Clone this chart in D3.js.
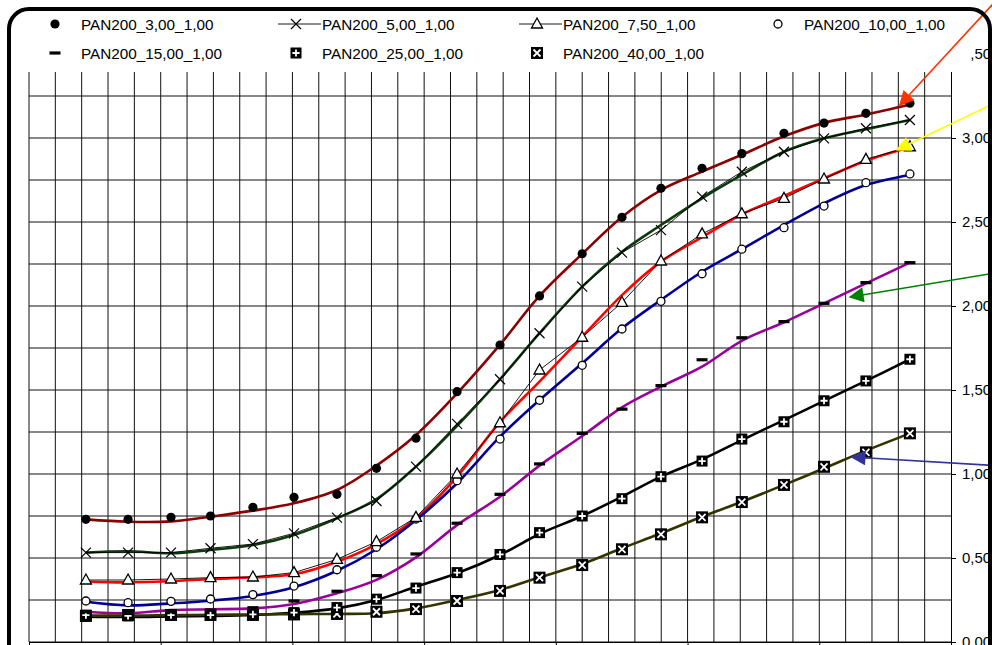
<!DOCTYPE html>
<html lang="de">
  <head>
    <meta charset="UTF-8" />
    <title>PAN200</title>
    <script src="https://d3js.org/d3.v7.min.js"></script>
    <style>
      body {
        margin: 0;
        background: #fff;
      }
      text {
        font-family: "Liberation Sans", Arial, sans-serif;
        fill: #000;
      }
    </style>
  </head>
  <body>
    <div id="chart"></div>
    <script>
      const width = 992,
        height = 645;

      // x positions of the measurements (grid units)
      const xPos = [2.16, 3.76, 5.39, 6.89, 8.5, 10.06, 11.69, 13.19, 14.69, 16.25, 17.88,
        19.38, 21.0, 22.51, 23.99, 25.55, 27.06, 28.66, 30.18, 31.77, 33.44];

      // measured points (markers)
      const pan3 = [0.73, 0.73, 0.742, 0.75, 0.802, 0.861, 0.879, 1.034, 1.213, 1.49, 1.768,
        2.06, 2.311, 2.528, 2.701, 2.82, 2.907, 3.028, 3.089, 3.147, 3.207];
      const pan5 = [0.532, 0.532, 0.532, 0.558, 0.583, 0.647, 0.74, 0.839, 1.044, 1.298, 1.564,
        1.838, 2.115, 2.318, 2.452, 2.651, 2.799, 2.918, 2.998, 3.058, 3.107];
      const pan75 = [0.369, 0.369, 0.375, 0.383, 0.387, 0.413, 0.492, 0.597, 0.742, 1.0, 1.305,
        1.619, 1.814, 2.021, 2.268, 2.429, 2.549, 2.641, 2.756, 2.873, 2.948];
      const pan10 = [0.244, 0.234, 0.242, 0.256, 0.282, 0.333, 0.43, 0.564, 0.732, 0.96, 1.208,
        1.439, 1.647, 1.863, 2.028, 2.192, 2.338, 2.466, 2.595, 2.734, 2.786];
      const pan15 = [0.18, 0.17, 0.18, 0.19, 0.204, 0.244, 0.302, 0.395, 0.524, 0.707, 0.879,
        1.06, 1.242, 1.386, 1.526, 1.68, 1.811, 1.907, 2.016, 2.139, 2.258];
      const pan25 = [0.16, 0.155, 0.16, 0.16, 0.165, 0.175, 0.205, 0.255, 0.321, 0.413, 0.521,
        0.651, 0.75, 0.853, 0.984, 1.077, 1.208, 1.311, 1.436, 1.554, 1.683];
      const pan40 = [0.155, 0.161, 0.161, 0.161, 0.161, 0.164, 0.167, 0.18, 0.196, 0.244, 0.304,
        0.383, 0.458, 0.552, 0.641, 0.742, 0.833, 0.935, 1.043, 1.129, 1.242];

      // smoothed curves (coloured lines)
      const fit3 = [0.73, 0.716, 0.718, 0.746, 0.782, 0.826, 0.905, 1.05, 1.232, 1.48, 1.77,
        2.06, 2.31, 2.53, 2.69, 2.8, 2.9, 3.01, 3.09, 3.14, 3.2];
      const fit5 = [0.532, 0.54, 0.528, 0.548, 0.577, 0.637, 0.736, 0.85, 1.044, 1.286, 1.564,
        1.838, 2.115, 2.323, 2.482, 2.641, 2.78, 2.918, 2.998, 3.052, 3.107];
      const fit75 = [0.359, 0.355, 0.363, 0.375, 0.385, 0.403, 0.478, 0.583, 0.736, 0.984, 1.31,
        1.55, 1.817, 2.065, 2.264, 2.41, 2.546, 2.655, 2.76, 2.865, 2.945];
      const fit10 = [0.24, 0.218, 0.23, 0.246, 0.274, 0.326, 0.424, 0.552, 0.726, 0.945, 1.222,
        1.44, 1.659, 1.867, 2.036, 2.204, 2.338, 2.482, 2.611, 2.72, 2.78];
      const fit15 = [0.18, 0.171, 0.19, 0.195, 0.2, 0.226, 0.29, 0.37, 0.504, 0.696, 0.865,
        1.05, 1.226, 1.397, 1.52, 1.639, 1.793, 1.903, 2.016, 2.135, 2.258];
      const fit25 = [0.151, 0.149, 0.152, 0.155, 0.161, 0.174, 0.2, 0.25, 0.329, 0.409, 0.518,
        0.643, 0.75, 0.865, 0.984, 1.087, 1.202, 1.321, 1.435, 1.554, 1.683];
      const fit40 = [0.157, 0.157, 0.16, 0.162, 0.164, 0.166, 0.167, 0.171, 0.2, 0.25, 0.31,
        0.385, 0.464, 0.558, 0.647, 0.746, 0.835, 0.935, 1.034, 1.139, 1.242];

      const seriesNames = ["PAN200_3,00_1,00", "PAN200_5,00_1,00", "PAN200_7,50_1,00",
        "PAN200_10,00_1,00", "PAN200_15,00_1,00", "PAN200_25,00_1,00", "PAN200_40,00_1,00"];
      const markerTypes = ["dot", "cross", "tri", "ring", "dash", "plus", "xbox"];
      const curveColors = ["#8b0000", "#0d3a0d", "#ff0000", "#000099", "#990099", "#000000", "#333300"];
      const withLine = [false, true, true, false, false, false, false];
      const points = [pan3, pan5, pan75, pan10, pan15, pan25, pan40];
      const fits = [fit3, fit5, fit75, fit10, fit15, fit25, fit40];

      const yTicks = [0, 0.5, 1, 1.5, 2, 2.5, 3, 3.5];
      const yTickLabels = ["0,00", "0,50", "1,00", "1,50", "2,00", "2,50", "3,00", "3,50"];

      // annotation arrows: [x0, y0, x1 (tip), y1 (tip)] in data units
      const arrowColors = ["#ff3300", "#ffff00", "#008000", "#333399"];
      const arrowLines = [
        [36.9, 3.85, 33.06, 3.196],
        [36.9, 3.226, 32.95, 2.93],
        [36.9, 2.202, 31.17, 2.054],
        [36.9, 1.048, 31.24, 1.101],
      ];

      const svg = d3
        .select("#chart")
        .append("svg")
        .attr("width", width)
        .attr("height", height);

      const x = d3.scaleLinear().domain([0, 35]).range([29, 951]);
      const y = d3.scaleLinear().domain([0, 3.5]).range([642, 54]);

      // grid
      const grid = svg.append("g");
      grid
        .selectAll("line.v")
        .data(d3.range(0, 35))
        .enter()
        .append("line")
        .attr("x1", (d) => x(d))
        .attr("x2", (d) => x(d))
        .attr("y1", y(3.5))
        .attr("y2", y(0))
        .attr("stroke", "#111")
        .attr("stroke-width", 1);
      grid
        .selectAll("line.h")
        .data(d3.range(0, 15).map((i) => i * 0.25))
        .enter()
        .append("line")
        .attr("x1", x(0))
        .attr("x2", x(35))
        .attr("y1", (d) => y(d))
        .attr("y2", (d) => y(d))
        .attr("stroke", "#111")
        .attr("stroke-width", 1);

      // right axis
      const yAxis = d3
        .axisRight(y)
        .tickValues(yTicks)
        .tickSize(5)
        .tickPadding(6)
        .tickFormat((d, i) => yTickLabels[i]);
      const ya = svg
        .append("g")
        .attr("transform", `translate(${x(35)},0)`)
        .call(yAxis);
      ya.select(".domain").attr("stroke", "#000");
      ya.selectAll("text")
        .style("font-size", "15px")
        .style("font-family", "'Liberation Sans', Arial, sans-serif");

      // bottom axis
      const xAxis = d3
        .axisBottom(x)
        .tickValues([0, 5, 10, 15, 20, 25, 30, 35])
        .tickSize(6)
        .tickFormat("");
      svg
        .append("g")
        .attr("transform", `translate(0,${y(0)})`)
        .call(xAxis)
        .select(".domain")
        .attr("stroke", "#000");

      // smoothed coloured curves
      const curve = d3
        .line()
        .x((d, i) => x(xPos[i]))
        .y((d) => y(d))
        .curve(d3.curveCatmullRom.alpha(0.5));
      svg
        .append("g")
        .selectAll("path")
        .data(fits)
        .enter()
        .append("path")
        .attr("d", curve)
        .attr("fill", "none")
        .attr("stroke", (d, i) => curveColors[i])
        .attr("stroke-width", 2.6);

      // thin black connecting lines (5,00 and 7,50)
      const straight = d3
        .line()
        .x((d, i) => x(xPos[i]))
        .y((d) => y(d));
      svg
        .append("g")
        .selectAll("path")
        .data(points.filter((d, i) => withLine[i]))
        .enter()
        .append("path")
        .attr("d", straight)
        .attr("fill", "none")
        .attr("stroke", "#000")
        .attr("stroke-width", 0.9);

      function drawMarker(g, type) {
        if (type === "dot") {
          g.append("circle").attr("r", 4.6).attr("fill", "#000");
        } else if (type === "cross") {
          g.append("path")
            .attr("d", "M-5,-5L5,5M-5,5L5,-5")
            .attr("stroke", "#000")
            .attr("stroke-width", 1.2);
        } else if (type === "tri") {
          g.append("path")
            .attr("d", "M0,-6L5.5,4L-5.5,4Z")
            .attr("fill", "#fff")
            .attr("stroke", "#000")
            .attr("stroke-width", 1.3);
        } else if (type === "ring") {
          g.append("circle")
            .attr("r", 4)
            .attr("fill", "#fff")
            .attr("stroke", "#000")
            .attr("stroke-width", 1.3);
        } else if (type === "dash") {
          g.append("rect")
            .attr("x", -5.5)
            .attr("y", -1.6)
            .attr("width", 11)
            .attr("height", 3.2)
            .attr("fill", "#000");
        } else if (type === "plus") {
          g.append("rect")
            .attr("x", -5.5)
            .attr("y", -5.5)
            .attr("width", 11)
            .attr("height", 11)
            .attr("fill", "#000");
          g.append("path")
            .attr("d", "M-3.6,0H3.6M0,-3.6V3.6")
            .attr("stroke", "#fff")
            .attr("stroke-width", 1.8);
        } else if (type === "xbox") {
          g.append("rect")
            .attr("x", -6)
            .attr("y", -6)
            .attr("width", 12)
            .attr("height", 12)
            .attr("fill", "#000");
          g.append("path")
            .attr("d", "M-3.5,-3.5L3.5,3.5M-3.5,3.5L3.5,-3.5")
            .attr("stroke", "#fff")
            .attr("stroke-width", 1.8);
        }
      }

      // markers, drawn from the last series to the first
      for (let s = points.length - 1; s >= 0; s--) {
        const gs = svg.append("g");
        points[s].forEach((v, i) => {
          const m = gs
            .append("g")
            .attr("transform", `translate(${x(xPos[i])},${y(v)})`);
          drawMarker(m, markerTypes[s]);
        });
      }

      // legend (white box hides the top strip of the plot)
      svg
        .append("rect")
        .attr("x", 12)
        .attr("y", 12)
        .attr("width", 958)
        .attr("height", 60)
        .attr("fill", "#fff");

      const legend = svg.append("g");
      seriesNames.forEach((name, i) => {
        const col = i < 4 ? i : i - 4;
        const row = i < 4 ? 0 : 1;
        const cx = 55 + col * 241;
        const cy = 24 + row * 29;
        const g = legend.append("g").attr("transform", `translate(${cx},${cy})`);
        if (withLine[i]) {
          g.append("line")
            .attr("x1", -18)
            .attr("x2", 25)
            .attr("stroke", "#000")
            .attr("stroke-width", 0.9);
        }
        drawMarker(g, markerTypes[i]);
        g.append("text")
          .attr("x", 26)
          .attr("y", 0)
          .attr("dy", "0.36em")
          .style("font-size", "15.3px")
          .text(name);
      });

      // arrows
      const defs = svg.append("defs");
      arrowColors.forEach((c, i) => {
        defs
          .append("marker")
          .attr("id", "arrow" + i)
          .attr("viewBox", "0 0 10 10")
          .attr("refX", 9)
          .attr("refY", 5)
          .attr("markerUnits", "userSpaceOnUse")
          .attr("markerWidth", 17)
          .attr("markerHeight", 15)
          .attr("orient", "auto")
          .append("path")
          .attr("d", "M0,0L10,5L0,10Z")
          .attr("fill", c);
      });
      svg
        .append("g")
        .selectAll("line")
        .data(arrowLines)
        .enter()
        .append("line")
        .attr("x1", (d) => x(d[0]))
        .attr("y1", (d) => y(d[1]))
        .attr("x2", (d) => x(d[2]))
        .attr("y2", (d) => y(d[3]))
        .attr("stroke", (d, i) => arrowColors[i])
        .attr("stroke-width", 1.6)
        .attr("marker-end", (d, i) => `url(#arrow${i})`);

      // rounded frame
      svg
        .append("rect")
        .attr("x", 9)
        .attr("y", 9)
        .attr("width", 981)
        .attr("height", 800)
        .attr("rx", 20)
        .attr("fill", "none")
        .attr("stroke", "#000")
        .attr("stroke-width", 4);
    </script>
  </body>
</html>
